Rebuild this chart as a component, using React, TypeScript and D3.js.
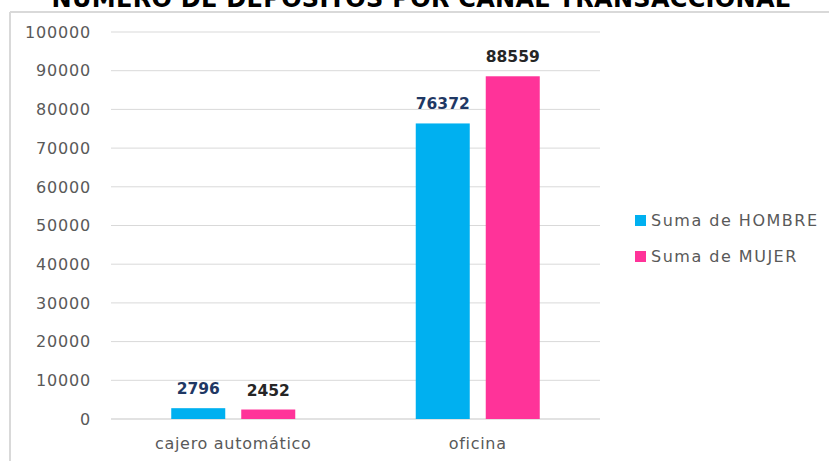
import React from "react";
import * as d3 from "d3";

const categories = ["cajero automático", "oficina"];
const seriesNames = ["Suma de HOMBRE", "Suma de MUJER"];
const hombre = [2796, 76372];
const mujer = [2452, 88559];
const yTicks = [0, 10000, 20000, 30000, 40000, 50000, 60000, 70000, 80000, 90000, 100000];
const title = "NÚMERO DE DEPÓSITOS POR CANAL TRANSACCIONAL";

const W = 829;
const H = 461;
const colors = ["#00B0F0", "#FF3399"];
const labelColors = ["#1F3864", "#262626"];
const FONT = "'DejaVu Sans', 'Liberation Sans', Arial, sans-serif";

export default function App() {
  const left = 111, right = 600, top = 32, bottom = 419;
  const x = d3.scaleBand<string>().domain(categories).range([left, right]).paddingInner(0).paddingOuter(0);
  const y = d3.scaleLinear().domain([0, 100000]).range([bottom, top]);
  const series = [hombre, mujer];
  const barW = 54;
  const gap = 16;
  const groupW = barW * 2 + gap;

  return (
    <svg width={W} height={H} style={{ position: "absolute", left: 0, top: 0, background: "#fff" }} fontFamily={FONT}>
      <rect x={0} y={0} width={W} height={H} fill="#fff" />
      <text x={421} y={7} textAnchor="middle" fontSize={24} fontWeight="bold" letterSpacing={0.3} fill="#000">{title}</text>
      <line x1={10} x2={W} y1={12} y2={12} stroke="#d9d9d9" strokeWidth={2} />
      <line x1={10} x2={10} y1={12} y2={H} stroke="#d9d9d9" strokeWidth={2} />
      {yTicks.map((t) => (
        <g key={t}>
          <line x1={left} x2={right} y1={y(t)} y2={y(t)} stroke="#d9d9d9" strokeWidth={t === 0 ? 1.5 : 1} />
          <text x={91} y={y(t)} dy="0.36em" textAnchor="end" fontSize={16} letterSpacing={0.8} fill="#595959">{t}</text>
        </g>
      ))}
      {categories.map((c, ci) => {
        const cx = (x(c) as number) + x.bandwidth() / 2;
        const x0 = cx - groupW / 2;
        return (
          <g key={c}>
            {series.map((s, si) => {
              const bx = x0 + si * (barW + gap);
              const v = s[ci];
              return (
                <g key={si}>
                  <rect x={bx} y={y(v)} width={barW} height={y(0) - y(v)} fill={colors[si]} />
                  <text x={bx + barW / 2} y={y(v) - 14} textAnchor="middle" fontSize={15.5} fontWeight="bold" fill={labelColors[si]}>{v}</text>
                </g>
              );
            })}
            <text x={cx} y={449} textAnchor="middle" fontSize={16} letterSpacing={0.7} fill="#595959">{c}</text>
          </g>
        );
      })}
      {seriesNames.map((n, i) => (
        <g key={n}>
          <rect x={635} y={215 + i * 36} width={11} height={11} fill={colors[i]} />
          <text x={651} y={220.5 + i * 36} dy="0.36em" fontSize={16} letterSpacing={1.5} fill="#595959">{n}</text>
        </g>
      ))}
    </svg>
  );
}
